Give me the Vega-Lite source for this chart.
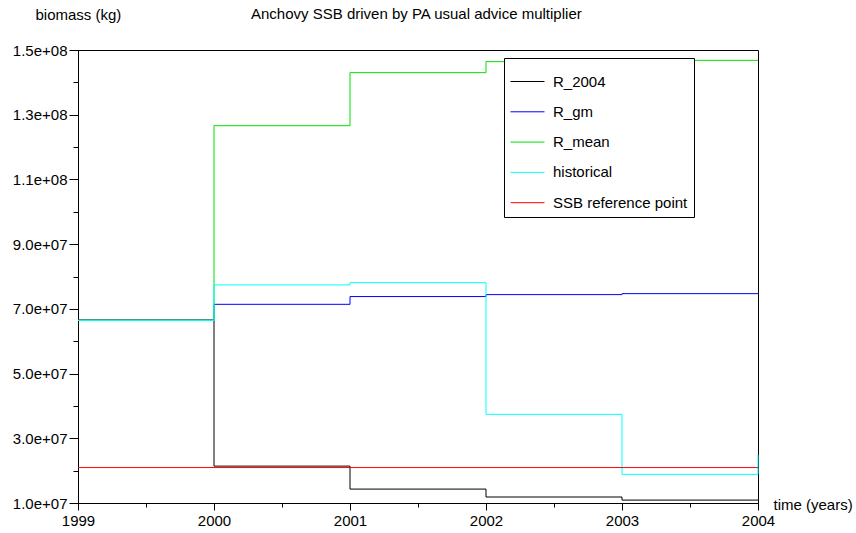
{
  "$schema": "https://vega.github.io/schema/vega-lite/v6.json",
  "width": 680,
  "height": 453,
  "autosize": {"type": "none"},
  "padding": {"left": 78, "top": 50, "right": 98, "bottom": 30},
  "background": "white",
  "title": {
    "text": "Anchovy SSB driven by PA usual advice multiplier",
    "anchor": "start",
    "frame": "group",
    "dx": 173,
    "dy": 22,
    "offset": 0,
    "baseline": "middle",
    "font": "Liberation Sans",
    "fontSize": 15,
    "fontWeight": "normal",
    "color": "black"
  },
  "data": {
    "values": [
      {"year": 1999, "series": "R_2004", "value": 66500000},
      {"year": 2000, "series": "R_2004", "value": 21400000},
      {"year": 2001, "series": "R_2004", "value": 14300000},
      {"year": 2002, "series": "R_2004", "value": 11850000},
      {"year": 2003, "series": "R_2004", "value": 10900000},
      {"year": 2004, "series": "R_2004", "value": 10900000},
      {"year": 1999, "series": "R_gm", "value": 66500000},
      {"year": 2000, "series": "R_gm", "value": 71400000},
      {"year": 2001, "series": "R_gm", "value": 73800000},
      {"year": 2002, "series": "R_gm", "value": 74400000},
      {"year": 2003, "series": "R_gm", "value": 74700000},
      {"year": 2004, "series": "R_gm", "value": 74700000},
      {"year": 1999, "series": "R_mean", "value": 66500000},
      {"year": 2000, "series": "R_mean", "value": 126600000},
      {"year": 2001, "series": "R_mean", "value": 143000000},
      {"year": 2002, "series": "R_mean", "value": 146400000},
      {"year": 2003, "series": "R_mean", "value": 146800000},
      {"year": 2004, "series": "R_mean", "value": 146800000},
      {"year": 1999, "series": "historical", "value": 66400000},
      {"year": 2000, "series": "historical", "value": 77400000},
      {"year": 2001, "series": "historical", "value": 78100000},
      {"year": 2002, "series": "historical", "value": 37400000},
      {"year": 2003, "series": "historical", "value": 18850000},
      {"year": 2004, "series": "historical", "value": 24800000},
      {"year": 1999, "series": "SSB reference point", "value": 20950000},
      {"year": 2004, "series": "SSB reference point", "value": 20950000}
    ]
  },
  "layer": [
    {
      "transform": [{"filter": "datum.series !== 'SSB reference point'"}],
      "mark": {"type": "line", "interpolate": "step-after", "strokeWidth": 1},
      "encoding": {
        "x": {
          "field": "year", "type": "quantitative",
          "scale": {"domain": [1999, 2004], "nice": false, "zero": false},
          "axis": {
            "values": [1999, 2000, 2001, 2002, 2003, 2004],
            "format": "d",
            "tickSize": 7,
            "labelPadding": 3,
            "labelFlush": false,
            "title": "time (years)",
            "titleX": 695,
            "titleY": 1,
            "titleAlign": "left",
            "titleBaseline": "middle",
            "titleAngle": 0
          }
        },
        "y": {
          "field": "value", "type": "quantitative",
          "scale": {"domain": [10000000, 150000000], "nice": false, "zero": false},
          "axis": {
            "values": [10000000, 30000000, 50000000, 70000000, 90000000, 110000000, 130000000, 150000000],
            "labelExpr": "replace(format(datum.value, '.1e'), 'e+', 'e+0')",
            "tickSize": 9,
            "labelPadding": 2,
            "labelFlush": false,
            "title": "biomass (kg)",
            "titleX": -43,
            "titleY": -36,
            "titleAlign": "left",
            "titleBaseline": "middle",
            "titleAngle": 0
          }
        },
        "color": {
          "field": "series", "type": "nominal",
          "scale": {
            "domain": ["R_2004", "R_gm", "R_mean", "historical", "SSB reference point"],
            "range": ["#000000", "#0000ff", "#00e000", "#00ffff", "#ff0000"]
          },
          "legend": {
            "title": null,
            "orient": "none",
            "legendX": 426,
            "legendY": 8,
            "padding": 6,
            "symbolType": "stroke",
            "symbolSize": 1156,
            "labelOffset": 8,
            "rowPadding": 4.3,
            "labelFont": "Liberation Sans",
            "labelFontSize": 15,
            "labelColor": "black"
          }
        }
      }
    },
    {
      "transform": [{"filter": "datum.series === 'SSB reference point'"}],
      "mark": {"type": "line", "interpolate": "step-after", "strokeWidth": 1},
      "encoding": {
        "x": {
          "field": "year", "type": "quantitative",
          "axis": {
            "orient": "bottom",
            "values": [1999.5, 2000.5, 2001.5, 2002.5, 2003.5],
            "labels": false,
            "domain": false,
            "tickSize": 4,
            "title": null
          }
        },
        "y": {
          "field": "value", "type": "quantitative",
          "axis": {
            "orient": "left",
            "values": [20000000, 40000000, 60000000, 80000000, 100000000, 120000000, 140000000],
            "labels": false,
            "domain": false,
            "tickSize": 5,
            "title": null
          }
        },
        "color": {"field": "series", "type": "nominal"}
      }
    }
  ],
  "resolve": {"axis": {"x": "independent", "y": "independent"}},
  "config": {
    "view": {"stroke": "black", "strokeWidth": 1},
    "legend": {
      "strokeColor": "black",
      "fillColor": "white",
      "symbolStrokeWidth": 1
    },
    "axis": {
      "grid": false,
      "domainColor": "black",
      "tickColor": "black",
      "labelColor": "black",
      "labelFont": "Liberation Sans",
      "labelFontSize": 15,
      "titleFont": "Liberation Sans",
      "titleFontSize": 15,
      "titleFontWeight": "normal",
      "titleColor": "black"
    }
  }
}
